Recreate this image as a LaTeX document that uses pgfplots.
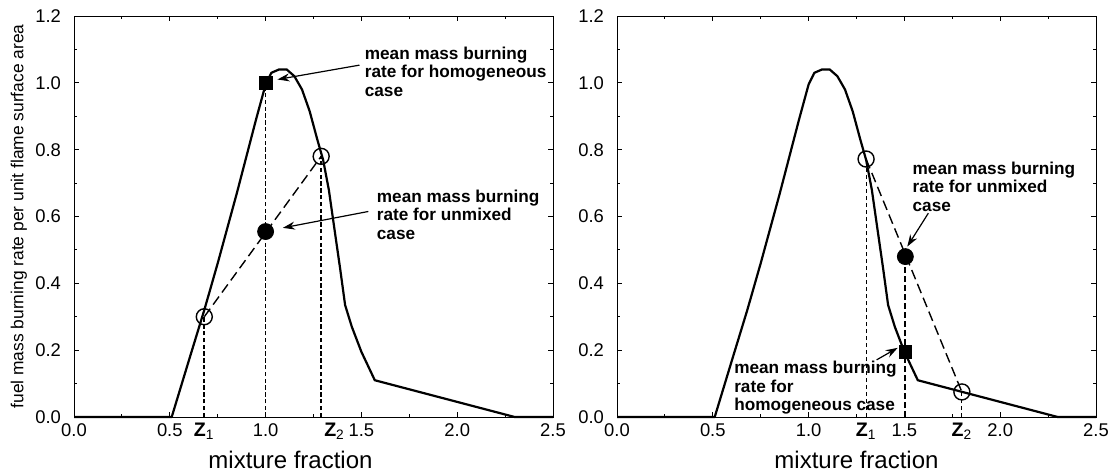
\documentclass[border=0pt]{standalone}
\usepackage{pgfplots}
\pgfplotsset{compat=1.18}
\usepackage{pgfplotstable}
\usepackage{fontspec}
\setmainfont{Liberation Sans}
\usetikzlibrary{arrows.meta}

% burning rate against mixture fraction
\pgfplotstableread{
z w
0 0
0.51 0
0.60 0.17
0.68 0.32
0.75 0.46
0.85 0.67
0.95 0.89
1.00 0.995
1.03 1.03
1.07 1.04
1.11 1.04
1.15 1.02
1.19 0.98
1.23 0.915
1.27 0.83
1.30 0.77
1.33 0.68
1.36 0.56
1.39 0.44
1.415 0.335
1.45 0.27
1.50 0.195
1.57 0.11
2.30 0
2.50 0
}\burn

\newcommand\ann{\fontsize{8.6}{9.25}\selectfont\bfseries}
\newcommand\zlab[1]{\textbf{Z}\textsubscript{#1}}

\pgfkeys{/pgf/number format/assume math mode=true}
\tikzset{
  curve/.style={black, line width=1.1pt, line join=round},
  vdash/.style={black, line width=0.85pt, dash pattern=on 2.2pt off 1.2pt},
  sdash/.style={black, line width=0.7pt, dash pattern=on 5pt off 2.5pt},
  arr/.style={-{Stealth[length=6pt,width=4pt]}, line width=0.6pt},
}
\pgfplotsset{
  burnaxis/.style={
    scale only axis, width=239.5pt, height=200.5pt,
    xmin=0, xmax=2.5, ymin=0, ymax=1.2,
    xtick={0,0.5,1.0,1.5,2.0,2.5},
    ytick={0,0.2,0.4,0.6,0.8,1.0,1.2},
    minor x tick num=1, minor y tick num=1,
    major tick length=2.5pt, minor tick length=1.5pt,
    tick align=inside,
    axis line style={line width=0.5pt},
    every tick/.style={line width=0.5pt, black},
    ticklabel style={font=\fontsize{9.2}{11}\selectfont,
      /pgf/number format/.cd, fixed, fixed zerofill, precision=1, /tikz/.cd},
    xticklabel style={anchor=base, yshift=-9.75pt},
    yticklabel style={xshift=-3pt},
    clip=false,
  },
}

\begin{document}
\begin{tikzpicture}
\path[use as bounding box] (0,0) rectangle (557.5pt,236pt);

\node[rotate=90, anchor=base, font=\fontsize{8.7}{10}\selectfont]
  at (11.7pt,127.75pt) {fuel mass burning rate per unit flame surface area};

% left panel
\begin{axis}[burnaxis, at={(37pt,27.5pt)}, anchor=south west]
  \addplot[curve] table[x=z, y=w] {\burn};
  \addplot[vdash] coordinates {(0.68,0) (0.68,0.30)};
  \addplot[vdash] coordinates {(1.0,0) (1.0,1.0)};
  \addplot[vdash] coordinates {(1.29,0) (1.29,0.78)};
  \addplot[sdash] coordinates {(0.68,0.30) (1.29,0.78)};
  \addplot[only marks, mark=o, mark size=4pt, mark options={line width=0.7pt}]
    coordinates {(0.68,0.30) (1.29,0.78)};
  \addplot[only marks, mark=*, mark size=4pt] coordinates {(1.0,0.555)};
  \addplot[only marks, mark=square*, mark size=3.2pt] coordinates {(1.0,1.0)};

  \node[anchor=base, font=\fontsize{9.8}{11}\selectfont] at (axis cs:0.68,0) [yshift=-9.75pt] {\zlab{1}};
  \node[anchor=base, font=\fontsize{9.8}{11}\selectfont] at (axis cs:1.36,0) [yshift=-9.75pt] {\zlab{2}};
  \node[anchor=base, font=\fontsize{12}{14}\selectfont] at (axis cs:1.13,0) [yshift=-25.5pt] {mixture fraction};

  \node[anchor=west, align=left, inner sep=0, font=\ann] at (axis cs:1.516,1.033)
    {mean mass burning\\rate for homogeneous\\case};
  \draw[arr] (axis cs:1.49,1.053) -- (axis cs:1.062,1.01);
  \node[anchor=west, align=left, inner sep=0, font=\ann] at (axis cs:1.579,0.605)
    {mean mass burning\\rate for unmixed\\case};
  \draw[arr] (axis cs:1.536,0.615) -- (axis cs:1.09,0.566);
\end{axis}

% right panel
\begin{axis}[burnaxis, at={(308.5pt,27.5pt)}, anchor=south west]
  \addplot[curve] table[x=z, y=w] {\burn};
  \addplot[black, line width=0.4pt, dash pattern=on 2pt off 1.5pt]
    coordinates {(1.30,0) (1.30,0.772)};
  \addplot[black, line width=1pt, dash pattern=on 3pt off 1.5pt]
    coordinates {(1.505,0) (1.505,0.48)};
  \addplot[black, line width=0.4pt, dash pattern=on 2pt off 1.5pt]
    coordinates {(1.80,0) (1.80,0.075)};
  \addplot[sdash] coordinates {(1.30,0.772) (1.80,0.075)};
  \addplot[only marks, mark=o, mark size=4pt, mark options={line width=0.7pt}]
    coordinates {(1.30,0.772) (1.80,0.075)};
  \addplot[only marks, mark=*, mark size=4pt] coordinates {(1.505,0.48)};
  \addplot[only marks, mark=square*, mark size=3.2pt] coordinates {(1.505,0.195)};

  \node[anchor=base, font=\fontsize{9.8}{11}\selectfont] at (axis cs:1.30,0) [yshift=-9.75pt] {\zlab{1}};
  \node[anchor=base, font=\fontsize{9.8}{11}\selectfont] at (axis cs:1.80,0) [yshift=-9.75pt] {\zlab{2}};
  \node[anchor=base, font=\fontsize{12}{14}\selectfont] at (axis cs:1.25,0) [yshift=-25.5pt] {mixture fraction};

  \node[anchor=west, align=left, inner sep=0, font=\ann] at (axis cs:1.541,0.69)
    {mean mass burning\\rate for unmixed\\case};
  \draw[arr] (axis cs:1.625,0.61) -- (axis cs:1.515,0.51);
  \node[anchor=west, align=left, inner sep=0, font=\ann] at (axis cs:0.61,0.087)
    {mean mass burning\\rate for\\homogeneous case};
  \draw[arr] (axis cs:1.355,0.171) -- (axis cs:1.465,0.207);
\end{axis}
\end{tikzpicture}
\end{document}
